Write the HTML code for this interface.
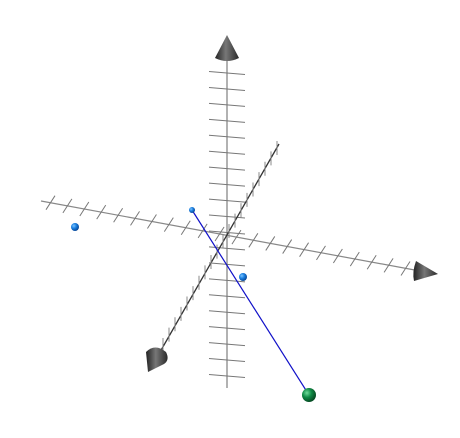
<!DOCTYPE html>
<html><head><meta charset="utf-8"><style>html,body{margin:0;padding:0;background:#fff}svg{display:block}</style></head>
<body>
<svg id="c" width="460" height="438" viewBox="0 0 460 438" xmlns="http://www.w3.org/2000/svg">
<defs>
<radialGradient id="gb" cx="35%" cy="35%" r="65%"><stop offset="0" stop-color="#7cc4ff"/><stop offset="0.5" stop-color="#1a7fe0"/><stop offset="1" stop-color="#0a4a9a"/></radialGradient>
<radialGradient id="gg" cx="35%" cy="35%" r="65%"><stop offset="0" stop-color="#6fdc9a"/><stop offset="0.5" stop-color="#0f8a45"/><stop offset="1" stop-color="#064d24"/></radialGradient>
<linearGradient id="gc" x1="0" x2="1"><stop offset="0" stop-color="#222"/><stop offset="0.45" stop-color="#777"/><stop offset="1" stop-color="#2a2a2a"/></linearGradient>
</defs>
<g id="axes"></g>
<g id="marks"></g>
</svg>
<script>
// axis tick counts
const vTicks = 20;
const hTicks = 22;
const dTicks = 20;
// data points (screen-space projected values)
const pointX = [75, 192, 243];
const pointY = [227, 210, 277];
const pointR = [4, 3, 4];
const lineStart = [192, 210];
const lineEnd = [309, 395];
const greenPoint = [309, 395, 7];

const NS = "http://www.w3.org/2000/svg";
const axes = document.getElementById('axes');
const marks = document.getElementById('marks');
function mk(tag, attrs, parent){const e=document.createElementNS(NS,tag);for(const k in attrs)e.setAttribute(k,attrs[k]);parent.appendChild(e);return e;}

// vertical axis
let e = mk('line',{x1:227,y1:60,x2:227,y2:388,stroke:'#999','stroke-width':1.5},axes);


for(let i=0;i<vTicks;i++){
  const y = 73 + i*(376-73)/(vTicks-1);
  const t = mk('line',{x1:209,y1:y-1.5,x2:245,y2:y+1.5,stroke:'#777','stroke-width':1},axes);
  
  
}
// horizontal axis
e = mk('line',{x1:41,y1:201,x2:420,y2:271,stroke:'#888','stroke-width':1.2},axes);


for(let i=0;i<hTicks;i++){
  const f = i/(hTicks-1);
  const x = 50 + f*(405-50), y = 202.7 + f*(268.5-202.7);
  const t = mk('line',{x1:x-4,y1:y+7,x2:x+5,y2:y-7,stroke:'#777','stroke-width':1},axes);
  
  
}
// depth axis
e = mk('line',{x1:279,y1:144,x2:160,y2:352,stroke:'#333','stroke-width':1.3},axes);


for(let i=0;i<dTicks;i++){
  const f = i/(dTicks-1);
  const x = 277 + f*(163-277), y = 148 + f*(345-148);
  const t = mk('line',{x1:x,y1:y-7,x2:x,y2:y+7,stroke:'#888','stroke-width':1},axes);
  
  
}
// arrows
e = mk('path',{d:'M227 35 L215 58 Q227 64 239 58 Z',fill:'url(#gc)'},axes);


e = mk('path',{d:'M438 274 L416 261 Q412 272 414 281 Z',fill:'url(#gc)'},axes);


e = mk('path',{d:'M148 372 L146 352 Q155 343 166 352 Q170 360 164 364 Z',fill:'url(#gc)'},axes);



// blue line
e = mk('line',{x1:lineStart[0],y1:lineStart[1],x2:lineEnd[0],y2:lineEnd[1],stroke:'#1010c8','stroke-width':1.2},marks);


for(let i=0;i<pointX.length;i++){
  const p = mk('circle',{cx:pointX[i],cy:pointY[i],r:pointR[i],fill:'url(#gb)'},marks);
  
  
}
e = mk('circle',{cx:greenPoint[0],cy:greenPoint[1],r:greenPoint[2],fill:'url(#gg)'},marks);


</script>
</body></html>
